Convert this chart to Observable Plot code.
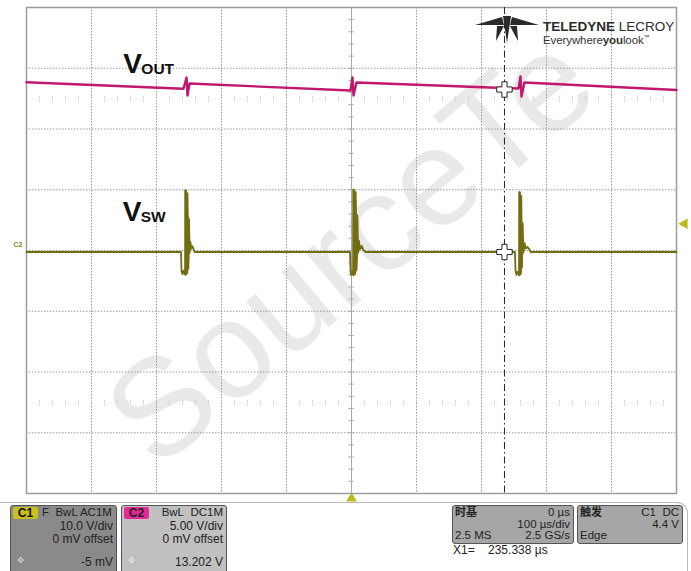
<!DOCTYPE html>
<html>
<head>
<meta charset="utf-8">
<script src="https://cdn.jsdelivr.net/npm/d3@7"></script>
<script src="https://cdn.jsdelivr.net/npm/@observablehq/plot@0.6"></script>
<style>
  html, body { margin: 0; padding: 0; background: #fff; overflow: hidden; }
  #wrap { position: relative; width: 691px; height: 571px; font-family: "Liberation Sans", Arial, sans-serif; }
  #panel { position: absolute; left: 0; top: 500px; width: 691px; height: 71px; overflow: hidden; color: #222; font-size: 12px; }
  .box { position: absolute; border: 1px solid #555; border-radius: 3px; box-sizing: border-box; }
  .t { position: absolute; white-space: nowrap; line-height: 1; }
  .badge { position: absolute; left: 2px; top: 1px; width: 25px; height: 12px; border-radius: 2px; font-weight: bold; font-size: 12px; text-align: center; line-height: 12px; }
  .cjk { font-family: "Noto Sans CJK SC", sans-serif; font-weight: bold; line-height: 1; }
</style>
</head>
<body>
<div id="wrap"></div>
<script>
// ---- data ----
const timeTicks = [-500, -400, -300, -200, -100, 0, 100, 200, 300, 400, 500]; // µs, 100 µs/div
const divTicks = [-4, -3, -2, -1, 0, 1, 2, 3, 4];
const c1VoltsPerDiv = 10;   // VSW
const c2VoltsPerDiv = 5;    // VOUT

const voutT = [-500, -258.5, -253.8, -252.3, -249.2, -1.5, 1.5, 3.1, 7.7, 256.9, 260, 261.5, 266, 500];
const voutV = [13.85, 13.31, 14.24, 12.76, 13.74, 13.17, 14.24, 12.76, 13.83, 13.33, 14.32, 12.67, 13.83, 13.21];

// VSW trace: baseline, low shelf before each edge, tail after each burst
const vswT = [-500,
  -262.3, -261.5, -260.0, -258.5, -256.9, -255.4, -254.6, -253.5, -252.3, -251.0, -250.0, -249.0, -247.8, -246.5, -244.5, -241.5,
  -2.3, -1.5, -0.5, 0.8, 2.0, 3.1, 4.0, 5.2, 6.5, 7.8, 9.0, 10.3, 11.5, 13.0, 15.5, 18.0, 21.5,
  251.5, 252.3, 253.8, 255.4, 256.9, 258.4, 259.2, 260.2, 261.2, 262.2, 263.3, 264.5, 266.3, 268.0, 270.5, 273.5, 276.0,
  500];
const vswV = [-0.25,
  -0.25, -3.4, -3.9, -3.3, -3.7, -4.0, 9.9, -3.8, 9.4, -3.0, 5.2, -0.4, 1.4, 0.3, 0.7, -0.25,
  -0.25, -3.5, -4.0, -3.4, -3.9, -4.1, 10.0, -3.9, 9.6, -3.2, 5.8, -0.4, 1.6, 0.2, 0.8, 0.1, -0.25,
  -0.25, -3.3, -4.0, -3.5, -3.9, -4.1, 9.6, -3.9, 9.0, -2.8, 4.5, -0.3, 1.2, 0.3, 0.6, 0.2, -0.25,
  -0.25];

// VSW ringing bursts drawn as an envelope (upper / lower edge of the dense ringing)
const burstT  = [-255.4, -254.0, -252.3, -251.5, -250.2, -249.0,   3.1, 5.0, 6.5, 7.7, 9.2, 10.5,   258.4, 259.5, 260.8, 262.0, 263.3, 264.5];
const burstHi = [9.9, 9.9, 9.5, 6.1, 5.0, 1.5,   10.0, 10.0, 9.6, 6.5, 4.5, 1.2,   9.6, 9.6, 9.0, 6.0, 3.0, 0.8];
const burstLo = [-4.1, -4.1, -4.0, -3.8, -3.0, -0.3,   -4.1, -4.1, -4.0, -3.6, -2.0, -0.2,   -4.1, -4.1, -4.0, -3.8, -2.0, -0.2];
const burstId = [1, 1, 1, 1, 1, 1,   2, 2, 2, 2, 2, 2,   3, 3, 3, 3, 3, 3];

const cursorT = 235.338;           // X1 cursor, µs
const cursorVout = 13.25;          // V on C2 at cursor
const cursorVsw = -0.25;           // V on C1 at cursor
const triggerT = 0;                // µs
const triggerLevel = 4.4;          // V on C1

const labels = [
  {main: "V", sub: "OUT", t: -351, v: 2.93},
  {main: "V", sub: "SW", t: -352, v: 0.49}
];

// ---- build ----
const vout = voutT.map((t, i) => ({t, d: voutV[i] / c2VoltsPerDiv}));
const vsw = vswT.map((t, i) => ({t, d: vswV[i] / c1VoltsPerDiv}));
const bursts = burstT.map((t, i) => ({t, hi: burstHi[i] / c1VoltsPerDiv, lo: burstLo[i] / c1VoltsPerDiv, id: burstId[i]}));
const minorY = d3.range(-4, 4.001, 0.2);
const minorX = d3.range(-500, 500.001, 20);

const olive = "#736d12";
const magenta = "#c0186c";

const chart = Plot.plot({
  width: 691, height: 500,
  marginLeft: 26, marginRight: 15, marginTop: 7, marginBottom: 7,
  x: {domain: [-500, 500], axis: null},
  y: {domain: [-4, 4], axis: null},
  style: {background: "white", overflow: "visible", fontFamily: "Liberation Sans, Arial, sans-serif"},
  marks: [
    // watermark
    Plot.text(["SourceTe"], {frameAnchor: "middle", rotate: -40, fontSize: 138, fill: "#000", fillOpacity: 0.085, fontFamily: "Liberation Sans, Arial, sans-serif"}),
    // grid
    Plot.ruleX(timeTicks.filter(t => t !== 0), {stroke: "#9a9a9a", strokeDasharray: "1.5,1.5", strokeWidth: 1}),
    Plot.ruleY(divTicks, {stroke: "#9a9a9a", strokeDasharray: "1.5,1.5", strokeWidth: 1}),
    Plot.ruleX([0], {stroke: "#a8a8a8", strokeWidth: 1}),
    Plot.ruleY(minorY, {y: d => d, x1: -4, x2: 4, stroke: "#a8a8a8"}),
    Plot.ruleX(minorX, {x: d => d, y1: 2.45, y2: 2.55, stroke: "#c4c4c4", strokeDasharray: "1,1"}),
    Plot.ruleX(minorX, {x: d => d, y1: -2.55, y2: -2.45, stroke: "#c4c4c4", strokeDasharray: "1,1"}),
    Plot.frame({stroke: "#9c9c9c", strokeWidth: 1.5}),
    // labels
    Plot.text(labels, {x: "t", y: "v", text: "main", textAnchor: "start", lineAnchor: "bottom", fontSize: 28, fontWeight: "bold", fill: "#111"}),
    Plot.text(labels, {x: "t", y: "v", text: "sub", textAnchor: "start", lineAnchor: "bottom", dx: 18, dy: 1, fontSize: 15.5, fontWeight: "bold", fill: "#111"}),
    // traces
    Plot.areaY(bursts, {x: "t", y1: "lo", y2: "hi", z: "id", fill: olive, stroke: olive, strokeWidth: 0.8}),
    Plot.line(vsw, {x: "t", y: "d", stroke: olive, strokeWidth: 1.8}),
    Plot.line(vout, {x: "t", y: "d", stroke: magenta, strokeWidth: 2.4}),
    // cursor
    Plot.ruleX([cursorT], {stroke: "#222", strokeWidth: 1, strokeDasharray: "7,3,1.5,3"}),
    Plot.dot([cursorVout / c2VoltsPerDiv, cursorVsw / c1VoltsPerDiv], {x: () => cursorT, y: d => d, symbol: "cross", r: 6.5, fill: "white", stroke: "#222", strokeWidth: 1}),
    // markers
    Plot.dot([triggerT], {x: d => d, y: -4, dy: 5, symbol: "triangle", r: 4, fill: "#c2b81a", stroke: "none"}),
    Plot.dot([triggerLevel / c1VoltsPerDiv], {x: 500, y: d => d, dx: 8, symbol: "triangle", rotate: -90, r: 4, fill: "#c2b81a", stroke: "none"}),
    Plot.text(["C2"], {x: -500, y: 0.1, dx: -4, textAnchor: "end", fontSize: 7, fill: "#8a8420", fontWeight: "bold"})
  ]
});

const wrap = document.getElementById("wrap");
wrap.appendChild(chart);

// Logo overlay
const logo = document.createElement("div");
logo.style.cssText = "position:absolute;left:474px;top:14px;width:215px;height:34px;";
logo.innerHTML = `
<svg width="66" height="30" style="position:absolute;left:0;top:1px" viewBox="0 0 66 30">
  <g fill="#2b2b2b">
    <polygon points="1,10 28,2 30,10"/>
    <polygon points="65,10 38,2 36,10"/>
    <polygon points="29,1 37,1 33,28"/>
    <polygon points="23,11 30,11 22,26"/>
    <polygon points="36,11 43,11 44,26"/>
  </g>
</svg>
<div class="t" style="left:69px;top:6px;font-size:13.5px;color:#2b2b2b;"><b>TELEDYNE</b> LECROY</div>
<div class="t" style="left:69px;top:20px;font-size:11.5px;color:#333;letter-spacing:-0.1px;">Everywhere<b>you</b>look<sup style="font-size:6px">™</sup></div>`;
wrap.appendChild(logo);

// Bottom panel
const panel = document.createElement("div");
panel.id = "panel";
panel.innerHTML = `
<div style="position:absolute;left:-2px;top:2px;width:689px;height:90px;border-top:1px solid #bbb;border-right:1px solid #bbb;border-top-right-radius:11px;"></div>
<div class="box" style="left:10px;top:5px;width:107px;height:72px;background:#8a8a8a;">
  <div class="badge" style="background:#c9c11c;color:#111;">C1</div>
  <div class="t" style="left:31px;top:1px;font-size:11.5px;">F&nbsp; BwL AC1M</div>
  <div class="t" style="right:3px;top:14px;">10.0 V/div</div>
  <div class="t" style="right:3px;top:27px;">0 mV offset</div>
  <div class="t" style="left:5px;top:49px;color:#fff;font-size:11px;">✧</div>
  <div class="t" style="right:3px;top:50px;">-5 mV</div>
</div>
<div class="box" style="left:121px;top:5px;width:106px;height:72px;background:#c0c0c0;">
  <div class="badge" style="background:#e52896;color:#222;">C2</div>
  <div class="t" style="right:3px;top:1px;font-size:11.5px;">BwL&nbsp; DC1M</div>
  <div class="t" style="right:3px;top:14px;">5.00 V/div</div>
  <div class="t" style="right:3px;top:27px;">0 mV offset</div>
  <div class="t" style="left:5px;top:49px;color:#fff;font-size:11px;">✧</div>
  <div class="t" style="right:3px;top:50px;">13.202 V</div>
</div>
<div class="box" style="left:452px;top:5px;width:122px;height:39px;background:#a6a6a6;font-size:11.5px;">
  <div class="t cjk" style="left:2px;top:0px;font-size:11px;">时基</div>
  <div class="t" style="right:3px;top:1px;">0 µs</div>
  <div class="t" style="right:3px;top:13px;">100 µs/div</div>
  <div class="t" style="left:2px;top:24px;">2.5 MS</div>
  <div class="t" style="right:3px;top:24px;">2.5 GS/s</div>
</div>
<div class="box" style="left:577px;top:5px;width:106px;height:39px;background:#a6a6a6;font-size:11.5px;">
  <div class="t cjk" style="left:2px;top:0px;font-size:11px;">触发</div>
  <div class="t" style="right:3px;top:1px;">C1&nbsp; DC</div>
  <div class="t" style="right:3px;top:13px;">4.4 V</div>
  <div class="t" style="left:2px;top:24px;">Edge</div>
</div>
<div class="t" style="left:453px;top:44px;">X1=&nbsp;&nbsp;&nbsp; 235.338 µs</div>`;
wrap.appendChild(panel);
</script>
</body>
</html>
